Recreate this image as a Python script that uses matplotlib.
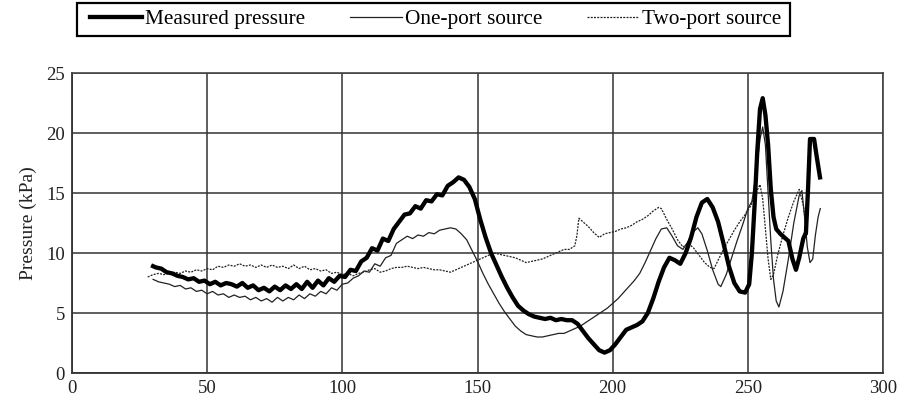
import matplotlib
matplotlib.use("Agg")
import matplotlib.pyplot as plt
from matplotlib.patches import Rectangle

plt.rcParams['font.family'] = ['Liberation Serif', 'DejaVu Serif']

# ---- data ----
measured_x = [30, 31, 33, 35, 37, 39, 41, 43, 45, 47, 49, 51, 53, 55, 57, 59, 61, 63, 65, 67,
              69, 71, 73, 75, 77, 79, 81, 83, 85, 87, 89, 91, 93, 95, 97, 99, 101, 103, 105, 107,
              109, 111, 113, 115, 117, 119, 121, 123, 125, 127, 129, 131, 133, 135, 137, 139, 141, 143, 145, 147,
              149, 151, 153, 155, 157, 159, 161, 163, 165, 167, 169, 171, 173, 175, 177, 179, 181, 183, 185, 187,
              189, 191, 193, 195, 197, 199, 201, 203, 205, 207, 209, 211, 213, 215, 217, 219, 221, 223, 225, 227,
              229, 231, 233, 235, 237, 239, 241, 243, 245, 247, 249, 250.5, 251.5, 252.5, 253.5, 254.5, 255.5, 256.5, 257.5, 258.5,
              259.5, 260.5, 262, 263.5, 265, 266.5, 267.8, 269, 270.5, 271.5, 272.3, 273, 274.5, 275.5, 276.7]
measured_y = [8.9, 8.8, 8.7, 8.4, 8.3, 8.1, 8.0, 7.8, 7.9, 7.6, 7.7, 7.4, 7.6, 7.3, 7.5, 7.4, 7.2, 7.5, 7.1, 7.3,
              6.9, 7.1, 6.8, 7.2, 6.9, 7.3, 7.0, 7.4, 7.0, 7.6, 7.1, 7.7, 7.3, 7.9, 7.6, 8.1, 8.0, 8.6, 8.5, 9.3,
              9.6, 10.4, 10.2, 11.2, 11.0, 12.0, 12.6, 13.2, 13.3, 13.9, 13.7, 14.4, 14.3, 14.9, 14.8, 15.6, 15.9, 16.3, 16.1, 15.5,
              14.5, 12.8, 11.3, 10.0, 9.0, 8.0, 7.1, 6.3, 5.6, 5.2, 4.9, 4.7, 4.6, 4.5, 4.6, 4.4, 4.5, 4.4, 4.4, 4.1,
              3.5, 2.9, 2.4, 1.9, 1.7, 1.9, 2.4, 3.0, 3.6, 3.8, 4.0, 4.3, 5.0, 6.2, 7.6, 8.8, 9.6, 9.4, 9.1, 10.0,
              11.3, 13.0, 14.2, 14.5, 13.8, 12.6, 10.8, 8.9, 7.5, 6.8, 6.7, 7.4, 10.0, 14.0, 18.5, 22.0, 22.9, 21.5, 19.0, 15.3,
              13.0, 12.0, 11.6, 11.3, 11.0, 9.5, 8.6, 9.6, 11.2, 11.7, 15.5, 19.5, 19.5, 18.0, 16.3]

oneport_x = [30, 32, 34, 36, 38, 40, 42, 44, 46, 48, 50, 52, 54, 56, 58, 60, 62, 64, 66, 68,
             70, 72, 74, 76, 78, 80, 82, 84, 86, 88, 90, 92, 94, 96, 98, 100, 102, 104, 106, 108,
             110, 112, 114, 116, 118, 120, 122, 124, 126, 128, 130, 132, 134, 136, 138, 140, 142, 144, 146, 148,
             150, 152, 154, 156, 158, 160, 162, 164, 166, 168, 170, 172, 174, 176, 178, 180, 182, 184, 186, 188,
             190, 192, 194, 196, 198, 200, 202, 204, 206, 208, 210, 212, 214, 216, 218, 220, 222, 224, 226, 228,
             230, 231.5, 233, 235, 237, 239, 240, 242, 244, 246, 248, 250, 251.5, 253, 254.5, 255.5, 256.5, 257.5, 258.5, 259.5,
             260.5, 261.5, 263, 265, 267, 269, 270, 271, 272, 273, 274, 275, 276, 276.8]
oneport_y = [7.8, 7.6, 7.5, 7.4, 7.2, 7.3, 7.0, 7.1, 6.8, 6.9, 6.6, 6.8, 6.5, 6.6, 6.3, 6.5, 6.3, 6.4, 6.1, 6.3,
             6.0, 6.2, 5.9, 6.3, 6.0, 6.3, 6.1, 6.5, 6.2, 6.6, 6.4, 6.8, 6.6, 7.1, 6.9, 7.4, 7.5, 7.9, 8.1, 8.5,
             8.4, 9.1, 8.9, 9.6, 9.8, 10.8, 11.1, 11.4, 11.2, 11.5, 11.4, 11.7, 11.6, 11.9, 12.0, 12.1, 12.0, 11.6, 11.1, 10.2,
             9.3, 8.3, 7.4, 6.6, 5.8, 5.1, 4.5, 3.9, 3.5, 3.2, 3.1, 3.0, 3.0, 3.1, 3.2, 3.3, 3.3, 3.5, 3.7, 3.9,
             4.2, 4.5, 4.8, 5.1, 5.4, 5.8, 6.2, 6.7, 7.2, 7.7, 8.3, 9.2, 10.2, 11.2, 12.0, 12.1, 11.4, 10.6, 10.3, 11.0,
             11.8, 12.1, 11.6, 10.2, 8.6, 7.4, 7.2, 8.2, 9.6, 11.0, 12.3, 13.7, 14.3, 16.5, 19.5, 20.5, 19.0, 15.0, 11.0, 7.8,
             6.0, 5.5, 6.8, 9.5, 12.5, 14.8, 15.2, 13.0, 10.5, 9.2, 9.5, 11.5, 13.0, 13.7]

twoport_x = [28, 30, 32, 34, 36, 38, 40, 42, 44, 46, 48, 50, 52, 54, 56, 58, 60, 62, 64, 66,
             68, 70, 72, 74, 76, 78, 80, 82, 84, 86, 88, 90, 92, 94, 96, 98, 100, 102, 104, 106,
             108, 110, 112, 114, 116, 118, 120, 122, 124, 126, 128, 130, 132, 134, 136, 138, 140, 142, 144, 146,
             148, 150, 152, 154, 156, 158, 160, 162, 164, 166, 168, 170, 172, 174, 176, 178, 180, 182, 184, 186,
             186.8, 187.5, 189, 191, 193, 195, 197, 199, 201, 203, 205, 207, 209, 211, 213, 215, 217, 218, 220, 222,
             224, 226, 228, 230, 232, 234, 236, 237.5, 239, 241, 243, 245, 247, 249, 251, 253, 254.5, 255.5, 256.5, 257.5,
             258.5, 259.5, 261, 263, 265, 267, 269, 270.5, 272]
twoport_y = [8.0, 8.2, 8.3, 8.2, 8.3, 8.4, 8.3, 8.5, 8.4, 8.6, 8.5, 8.7, 8.6, 8.9, 8.8, 9.0, 8.9, 9.1, 8.9, 9.0,
             8.8, 9.0, 8.8, 9.0, 8.8, 8.9, 8.7, 9.0, 8.7, 8.9, 8.6, 8.7, 8.5, 8.6, 8.3, 8.4, 8.2, 8.3, 8.1, 8.3,
             8.4, 8.6, 8.7, 8.4, 8.5, 8.7, 8.8, 8.8, 8.9, 8.8, 8.7, 8.8, 8.7, 8.6, 8.6, 8.5, 8.4, 8.6, 8.8, 9.0,
             9.2, 9.4, 9.6, 9.8, 10.0, 9.9, 9.8, 9.7, 9.6, 9.4, 9.2, 9.3, 9.4, 9.5, 9.7, 9.9, 10.1, 10.3, 10.3, 10.6,
             11.5, 12.9, 12.6, 12.2, 11.7, 11.3, 11.6, 11.7, 11.8, 12.0, 12.1, 12.3, 12.6, 12.8, 13.1, 13.5, 13.8, 13.7, 12.8, 12.0,
             11.1, 10.5, 10.8, 10.4, 9.8, 9.2, 8.8, 8.7, 9.4, 10.3, 11.1, 11.9, 12.6, 13.2, 13.9, 15.0, 15.7, 14.5, 12.0, 9.5,
             7.8, 8.2, 9.8, 11.5, 13.0, 14.3, 15.3, 14.0, 11.5]

x_ticks = [0, 50, 100, 150, 200, 250, 300]
y_ticks = [0, 5, 10, 15, 20, 25]

# ---- figure ----
W, H = 906, 407
fig = plt.figure(figsize=(W / 100, H / 100), dpi=100)
ax = fig.add_axes([72 / W, 1 - 373 / H, 811 / W, 300 / H])

ax.plot(twoport_x, twoport_y, color='#222222', lw=0.9, ls=(0, (1.6, 1.0)), label='Two-port source', zorder=3)
ax.plot(oneport_x, oneport_y, color='#222222', lw=0.9, label='One-port source', zorder=3)
ax.plot(measured_x, measured_y, color='black', lw=3.1, label='Measured pressure', zorder=4)

ax.set_xlim(0, 300)
ax.set_ylim(0, 25)
ax.set_xticks(x_ticks)
ax.set_yticks(y_ticks)
ax.tick_params(length=0, labelsize=13.5, pad=5, colors='#222222')
ax.grid(True, color='#333333', lw=1.1)
ax.set_axisbelow(True)
ax.set_ylabel('Pressure (kPa)', fontsize=14, labelpad=7, color='#222222')

for s in ['left', 'bottom']:
    ax.spines[s].set_color('#333333')
    ax.spines[s].set_linewidth(1.3)
for s in ['top', 'right']:
    ax.spines[s].set_color('#444444')
    ax.spines[s].set_linewidth(1.2)
    ax.spines[s].set_linestyle((0, (1, 1)))

# legend box drawn in figure pixels
fig.patches.append(Rectangle((77 / W, 1 - 36 / H), 713 / W, 33 / H, transform=fig.transFigure,
                             facecolor='white', edgecolor='black', lw=1.6, zorder=1))

h, l = ax.get_legend_handles_labels()
order = [2, 1, 0]
leg = fig.legend([h[i] for i in order], [l[i] for i in order],
                 loc='center left', bbox_to_anchor=(90 / W, 1 - 19.5 / H),
                 ncol=3, fontsize=15.3, frameon=False,
                 handlelength=2.45, handletextpad=0.15, borderaxespad=0, borderpad=0,
                 columnspacing=2.1)
leg.set_zorder(5)

fig.savefig('out.png', dpi=100)
